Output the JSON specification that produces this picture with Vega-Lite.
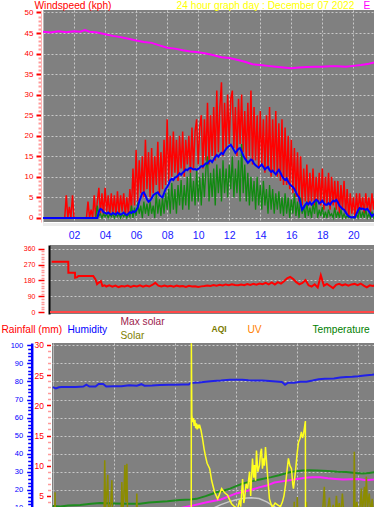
{
"$schema":"https://vega.github.io/schema/vega-lite/v6.json",
"padding":0,
"background":"#ffffff",
"columns":1,
"align":"none",
"bounds":"full",
"center":false,
"spacing":0,
"config":{
 "view":{"fill":"#808080","stroke":null},
 "axis":{"labelFont":"Liberation Sans, Arial, sans-serif","titleFont":"Liberation Sans, Arial, sans-serif","titleFontWeight":"normal","labelOverlap":false,"labelFlush":false,"titlePadding":0}
},
"datasets":{
"wind":[
{"t":0,"g":0,"a":0,"l":0},{"t":1.4,"g":0,"a":0,"l":0},{"t":1.5,"g":5.5,"a":0,"l":0},{"t":1.6,"g":0,"a":0,"l":0},{"t":1.7,"g":2.7,"a":0,"l":0},{"t":1.8,"g":0,"a":0,"l":0},{"t":1.9,"g":5.5,"a":0,"l":0},{"t":2.0,"g":0,"a":0,"l":0},{"t":2.8,"g":0,"a":0,"l":0},{"t":2.9,"g":4,"a":0,"l":0},{"t":3.0,"g":0,"a":0,"l":0},{"t":3.1,"g":2,"a":0,"l":0},{"t":3.2,"g":0,"a":0,"l":0},{"t":3.3,"g":5.5,"a":0,"l":0},{"t":3.4,"g":0,"a":0,"l":0},
{"t":3.5,"g":4,"a":0,"l":3},{"t":3.6,"g":7.3,"a":1.5,"l":0.5},{"t":3.7,"g":1,"a":2.2,"l":1},{"t":3.8,"g":6,"a":2,"l":0},{"t":3.9,"g":0.5,"a":1.4,"l":1},{"t":4.0,"g":7.3,"a":1.2,"l":0.3},{"t":4.1,"g":1.5,"a":1,"l":1},{"t":4.2,"g":5.5,"a":1.3,"l":0},{"t":4.3,"g":0.5,"a":1,"l":1},{"t":4.4,"g":6,"a":0.8,"l":0.3},{"t":4.5,"g":1,"a":1.2,"l":1},{"t":4.6,"g":5.5,"a":1,"l":0},{"t":4.7,"g":0.5,"a":0.8,"l":1},{"t":4.8,"g":6.5,"a":1.3,"l":0.3},{"t":4.9,"g":1,"a":1,"l":1},
{"t":5.0,"g":5.5,"a":0.8,"l":0},{"t":5.1,"g":1.5,"a":1,"l":1},{"t":5.2,"g":6,"a":1.3,"l":0.3},{"t":5.3,"g":0.5,"a":0.9,"l":1},{"t":5.4,"g":5,"a":0.7,"l":0},{"t":5.5,"g":1,"a":1,"l":1},{"t":5.6,"g":7,"a":1.4,"l":0.3},{"t":5.7,"g":2,"a":1.2,"l":3},{"t":5.8,"g":12,"a":1.6,"l":0},{"t":5.9,"g":3,"a":1.4,"l":2.5},
{"t":6.0,"g":16.5,"a":1.8,"l":0.5},{"t":6.1,"g":4,"a":2.5,"l":3.7},{"t":6.2,"g":14,"a":4,"l":1},{"t":6.3,"g":6,"a":5,"l":3},{"t":6.4,"g":15,"a":6,"l":0},{"t":6.5,"g":5,"a":6.2,"l":4},{"t":6.6,"g":19,"a":5.5,"l":1},{"t":6.7,"g":7,"a":4.5,"l":3.5},{"t":6.8,"g":16,"a":3.9,"l":0.5},{"t":6.9,"g":5,"a":4.2,"l":4},
{"t":7.0,"g":17,"a":4.8,"l":1},{"t":7.1,"g":6,"a":5.5,"l":3},{"t":7.2,"g":15,"a":5.8,"l":0},{"t":7.3,"g":8,"a":6,"l":6},{"t":7.4,"g":18.5,"a":6.2,"l":1},{"t":7.5,"g":6,"a":5.6,"l":4.5},{"t":7.6,"g":16,"a":5.2,"l":0.5},{"t":7.7,"g":7,"a":5,"l":5},{"t":7.8,"g":19,"a":6,"l":1},{"t":7.9,"g":8,"a":7,"l":6},
{"t":8.0,"g":24,"a":7.5,"l":2},{"t":8.1,"g":9,"a":8.2,"l":7},{"t":8.2,"g":20,"a":9.2,"l":1},{"t":8.3,"g":10,"a":9.5,"l":8.5},{"t":8.4,"g":21,"a":9.2,"l":2},{"t":8.5,"g":11,"a":9.8,"l":7},{"t":8.6,"g":19,"a":10,"l":1},{"t":8.7,"g":9,"a":10.3,"l":8},{"t":8.8,"g":20,"a":10.8,"l":3},{"t":8.9,"g":12,"a":10.5,"l":9.2},
{"t":9.0,"g":21,"a":11,"l":2},{"t":9.1,"g":10,"a":11.3,"l":8},{"t":9.2,"g":19,"a":11.8,"l":3},{"t":9.3,"g":13,"a":11.6,"l":10},{"t":9.4,"g":20,"a":12,"l":2},{"t":9.5,"g":11,"a":12.2,"l":11},{"t":9.6,"g":22,"a":12,"l":4},{"t":9.7,"g":12,"a":11.8,"l":9},{"t":9.8,"g":21,"a":11.9,"l":3},{"t":9.9,"g":24,"a":11.7,"l":11.7},
{"t":10.0,"g":13,"a":11.9,"l":4},{"t":10.1,"g":22,"a":12.2,"l":10},{"t":10.2,"g":25,"a":12.6,"l":3},{"t":10.3,"g":12,"a":12.5,"l":11},{"t":10.4,"g":24,"a":12.9,"l":5},{"t":10.5,"g":14,"a":13.3,"l":12},{"t":10.6,"g":28,"a":13.2,"l":15},{"t":10.7,"g":13,"a":13.8,"l":4},{"t":10.8,"g":25,"a":14,"l":11},{"t":10.9,"g":15,"a":13.6,"l":5},
{"t":11.0,"g":27,"a":14.2,"l":12},{"t":11.1,"g":14,"a":14.8,"l":3},{"t":11.2,"g":31,"a":15.3,"l":13},{"t":11.3,"g":16,"a":14.9,"l":6},{"t":11.4,"g":27,"a":15.4,"l":12},{"t":11.5,"g":33,"a":15.8,"l":4},{"t":11.6,"g":15,"a":15.5,"l":14},{"t":11.7,"g":28,"a":16.2,"l":6},{"t":11.8,"g":17,"a":16.8,"l":12},{"t":11.9,"g":30,"a":17.2,"l":5},
{"t":12.0,"g":18,"a":17.5,"l":13},{"t":12.1,"g":29,"a":17.8,"l":7},{"t":12.2,"g":31,"a":17.2,"l":15},{"t":12.3,"g":17,"a":16.5,"l":5},{"t":12.4,"g":27,"a":15.8,"l":12},{"t":12.5,"g":15,"a":16.3,"l":6},{"t":12.6,"g":29,"a":16.8,"l":14},{"t":12.7,"g":18,"a":17,"l":4},{"t":12.8,"g":30,"a":16.2,"l":18},{"t":12.9,"g":16,"a":15.2,"l":6},
{"t":13.0,"g":26,"a":14.5,"l":13},{"t":13.1,"g":14,"a":14,"l":4},{"t":13.2,"g":28,"a":13.4,"l":11},{"t":13.3,"g":15,"a":13.8,"l":3},{"t":13.4,"g":31,"a":14.2,"l":10},{"t":13.5,"g":13,"a":14,"l":4},{"t":13.6,"g":27,"a":13.2,"l":9},{"t":13.7,"g":14,"a":12.8,"l":2},{"t":13.8,"g":25,"a":12.5,"l":10},{"t":13.9,"g":12,"a":12.2,"l":3},
{"t":14.0,"g":26,"a":12.6,"l":8},{"t":14.1,"g":13,"a":13,"l":2},{"t":14.2,"g":24,"a":12.4,"l":9},{"t":14.3,"g":11,"a":11.8,"l":3},{"t":14.4,"g":25,"a":12.2,"l":7},{"t":14.5,"g":12,"a":12.4,"l":1},{"t":14.6,"g":27,"a":11.6,"l":8},{"t":14.7,"g":10,"a":11.2,"l":2},{"t":14.8,"g":24,"a":11.5,"l":7},{"t":14.9,"g":11,"a":11,"l":1},
{"t":15.0,"g":26,"a":10.6,"l":6},{"t":15.1,"g":10,"a":11.2,"l":2},{"t":15.2,"g":23,"a":11.7,"l":6.5},{"t":15.3,"g":9,"a":11,"l":1},{"t":15.4,"g":24,"a":10.2,"l":5},{"t":15.5,"g":8,"a":9.6,"l":0.5},{"t":15.6,"g":22,"a":9.2,"l":6},{"t":15.7,"g":8,"a":9.6,"l":1},{"t":15.8,"g":20,"a":8.8,"l":5},{"t":15.9,"g":7,"a":8.2,"l":0},
{"t":16.0,"g":19,"a":7.8,"l":4.5},{"t":16.1,"g":6,"a":7.5,"l":1},{"t":16.2,"g":17,"a":7,"l":6},{"t":16.3,"g":5,"a":6.2,"l":0.5},{"t":16.4,"g":16,"a":5.5,"l":4},{"t":16.5,"g":4,"a":5,"l":0},{"t":16.6,"g":15,"a":3.5,"l":5},{"t":16.7,"g":3,"a":2,"l":1},{"t":16.8,"g":12,"a":2.5,"l":3},{"t":16.9,"g":4,"a":3.2,"l":0},
{"t":17.0,"g":13,"a":3.7,"l":4},{"t":17.1,"g":3,"a":3.3,"l":0.5},{"t":17.2,"g":11,"a":3.8,"l":2.5},{"t":17.3,"g":4,"a":3.2,"l":0},{"t":17.4,"g":12,"a":3.6,"l":3.5},{"t":17.5,"g":3,"a":4,"l":1},{"t":17.6,"g":10,"a":4.4,"l":4.4},{"t":17.7,"g":4,"a":4.2,"l":0},{"t":17.8,"g":11,"a":3.5,"l":2},{"t":17.9,"g":3,"a":3.8,"l":0.5},
{"t":18.0,"g":12,"a":4.2,"l":2.7},{"t":18.1,"g":2,"a":3.6,"l":0},{"t":18.2,"g":10,"a":3.2,"l":1.5},{"t":18.3,"g":3,"a":3.2,"l":0},{"t":18.4,"g":11,"a":3.6,"l":2},{"t":18.5,"g":2,"a":3.2,"l":0.5},{"t":18.6,"g":10,"a":3.8,"l":1},{"t":18.7,"g":3,"a":4.2,"l":0},{"t":18.8,"g":9,"a":4,"l":2.5},{"t":18.9,"g":2,"a":4.4,"l":0},
{"t":19.0,"g":9,"a":3.8,"l":1.5},{"t":19.1,"g":1,"a":3,"l":0},{"t":19.2,"g":8,"a":2.6,"l":2},{"t":19.3,"g":2,"a":2.2,"l":0},{"t":19.4,"g":9,"a":2,"l":1},{"t":19.5,"g":1,"a":1.4,"l":0},{"t":19.6,"g":7,"a":0.8,"l":0.5},{"t":19.7,"g":0,"a":0.4,"l":0},{"t":19.8,"g":6,"a":0.2,"l":0.3},{"t":19.9,"g":1,"a":0.1,"l":0},
{"t":20.0,"g":5,"a":0.2,"l":0},{"t":20.1,"g":0,"a":0.1,"l":0},{"t":20.2,"g":6,"a":1,"l":1},{"t":20.3,"g":1,"a":1.8,"l":0},{"t":20.4,"g":6,"a":2.4,"l":2},{"t":20.5,"g":2,"a":2.2,"l":0},{"t":20.6,"g":5,"a":2.3,"l":1.5},{"t":20.7,"g":1,"a":2.1,"l":0},{"t":20.8,"g":6,"a":2,"l":2},{"t":20.9,"g":2,"a":2.2,"l":0},
{"t":21.0,"g":5,"a":1.6,"l":1},{"t":21.1,"g":1,"a":1,"l":0},{"t":21.2,"g":6,"a":0.4,"l":1.5},{"t":21.3,"g":2,"a":0.8,"l":0},{"t":21.4,"g":6,"a":1,"l":0.5}
],
"press":[
{"t":0,"m":45.3},{"t":0.5,"m":45.1},{"t":1,"m":45.4},{"t":1.5,"m":45.2},{"t":2,"m":45.4},{"t":2.4,"m":45.3},{"t":2.7,"m":45.7},{"t":3,"m":45.3},{"t":3.5,"m":45.1},{"t":4,"m":44.7},{"t":4.5,"m":44.3},{"t":5,"m":44.0},{"t":5.5,"m":43.6},{"t":6,"m":43.2},{"t":6.5,"m":42.8},{"t":7,"m":42.6},{"t":7.5,"m":42.0},{"t":8,"m":41.4},{"t":8.5,"m":41.2},{"t":9,"m":40.8},{"t":9.5,"m":40.5},{"t":10,"m":40.3},{"t":10.5,"m":40.0},{"t":11,"m":39.6},{"t":11.5,"m":39.1},{"t":12,"m":38.9},{"t":12.5,"m":38.5},{"t":13,"m":38.0},{"t":13.5,"m":37.4},{"t":14,"m":37.2},{"t":14.5,"m":37.0},{"t":15,"m":36.8},{"t":15.5,"m":36.6},{"t":16,"m":36.4},{"t":16.5,"m":36.6},{"t":17,"m":36.7},{"t":17.5,"m":36.8},{"t":18,"m":36.8},{"t":18.5,"m":36.9},{"t":19,"m":36.9},{"t":19.5,"m":36.8},{"t":20,"m":37.0},{"t":20.5,"m":37.2},{"t":21,"m":37.5},{"t":21.4,"m":37.9}
],
"dir":[
{"t":0.24,"d":286},{"t":1.32,"d":286},{"t":1.33,"d":224},{"t":1.76,"d":224},{"t":1.77,"d":195},{"t":1.9,"d":198},{"t":1.98,"d":205},{"t":2.95,"d":205},{"t":3.1,"d":186},{"t":3.2,"d":158},{"t":3.3,"d":166},{"t":3.45,"d":176},{"t":3.55,"d":148},{"t":3.7,"d":152},
{"t":3.8,"d":145},{"t":4.0,"d":152},{"t":4.2,"d":144},{"t":4.4,"d":150},{"t":4.6,"d":142},{"t":4.8,"d":148},{"t":5.0,"d":145},{"t":5.2,"d":151},{"t":5.4,"d":143},{"t":5.6,"d":149},{"t":5.8,"d":146},{"t":6.0,"d":152},{"t":6.2,"d":144},{"t":6.4,"d":150},{"t":6.6,"d":145},{"t":6.8,"d":154},{"t":7.0,"d":166},{"t":7.2,"d":150},{"t":7.4,"d":145},{"t":7.6,"d":151},{"t":7.8,"d":146},{"t":8.0,"d":149},{"t":8.2,"d":144},{"t":8.4,"d":150},{"t":8.6,"d":146},{"t":8.8,"d":148},{"t":9.0,"d":143},{"t":9.2,"d":149},{"t":9.4,"d":145},{"t":9.6,"d":147},{"t":9.8,"d":142},{"t":10.0,"d":146},{"t":10.2,"d":148},{"t":10.4,"d":151},{"t":10.6,"d":148},{"t":10.8,"d":153},{"t":11.0,"d":150},{"t":11.2,"d":155},{"t":11.4,"d":151},{"t":11.6,"d":157},{"t":11.8,"d":153},{"t":12.0,"d":158},{"t":12.2,"d":154},{"t":12.4,"d":152},{"t":12.6,"d":157},{"t":12.8,"d":153},{"t":13.0,"d":159},{"t":13.2,"d":154},{"t":13.4,"d":160},{"t":13.6,"d":155},{"t":13.8,"d":162},{"t":14.0,"d":158},{"t":14.2,"d":166},{"t":14.4,"d":157},{"t":14.6,"d":168},{"t":14.8,"d":156},{"t":15.0,"d":170},{"t":15.2,"d":162},{"t":15.4,"d":175},{"t":15.6,"d":192},{"t":15.8,"d":200},{"t":16.0,"d":188},{"t":16.2,"d":170},{"t":16.4,"d":158},{"t":16.6,"d":165},{"t":16.8,"d":182},{"t":17.0,"d":152},{"t":17.2,"d":145},{"t":17.4,"d":158},{"t":17.6,"d":140},{"t":17.8,"d":209},{"t":18.0,"d":150},{"t":18.2,"d":160},{"t":18.4,"d":148},{"t":18.6,"d":136},{"t":18.8,"d":155},{"t":19.0,"d":160},{"t":19.2,"d":152},{"t":19.4,"d":158},{"t":19.6,"d":150},{"t":19.8,"d":157},{"t":20.0,"d":160},{"t":20.2,"d":153},{"t":20.4,"d":162},{"t":20.6,"d":150},{"t":20.8,"d":140},{"t":21.0,"d":152},{"t":21.2,"d":148},{"t":21.4,"d":155}
],
"hum":[
{"t":0,"h":76.9},{"t":0.2,"h":76.2},{"t":0.4,"h":76.8},{"t":0.6,"h":76.9},{"t":1,"h":76.9},{"t":1.5,"h":77},{"t":2,"h":77.2},{"t":2.2,"h":78.2},{"t":2.4,"h":77.2},{"t":2.8,"h":77.2},{"t":3,"h":78.6},{"t":3.3,"h":78.6},{"t":3.5,"h":77.2},{"t":4,"h":77.3},{"t":4.5,"h":77.4},{"t":5,"h":77.9},{"t":5.5,"h":77.7},{"t":5.8,"h":78.5},{"t":6,"h":77.7},{"t":6.5,"h":77.8},{"t":7,"h":78},{"t":7.6,"h":78.2},{"t":8,"h":78.2},{"t":8.5,"h":78.3},{"t":8.9,"h":78.3},{"t":9,"h":79},{"t":9.2,"h":79.3},{"t":9.6,"h":79.4},{"t":10,"h":79.8},{"t":10.5,"h":80.2},{"t":11,"h":80.5},{"t":11.6,"h":81},{"t":12,"h":81},{"t":12.4,"h":81},{"t":12.8,"h":80.7},{"t":13.2,"h":80.5},{"t":13.7,"h":80.6},{"t":14.2,"h":80.3},{"t":14.6,"h":80},{"t":15,"h":79.7},{"t":15.2,"h":78.2},{"t":15.4,"h":79.3},{"t":15.8,"h":79.3},{"t":16.2,"h":79.8},{"t":16.6,"h":79.9},{"t":17,"h":80.5},{"t":17.4,"h":81.2},{"t":17.8,"h":81.5},{"t":18.4,"h":81.6},{"t":18.8,"h":82.2},{"t":19.2,"h":82.5},{"t":19.6,"h":82.6},{"t":20,"h":82.9},{"t":20.4,"h":83.3},{"t":20.9,"h":83.7},{"t":21.1,"h":83.9}
],
"temp":[
{"t":0,"v":3.3},{"t":0.5,"v":3.25},{"t":1,"v":3.4},{"t":1.8,"v":3.5},{"t":2.5,"v":3.7},{"t":3.1,"v":3.8},{"t":4,"v":3.75},{"t":5,"v":3.7},{"t":5.7,"v":3.7},{"t":6.3,"v":3.9},{"t":6.8,"v":4.0},{"t":7.5,"v":4.1},{"t":8.3,"v":4.3},{"t":9,"v":4.4},{"t":9.4,"v":4.5},{"t":10,"v":4.95},{"t":10.4,"v":5.3},{"t":10.7,"v":5.6},{"t":11.2,"v":5.9},{"t":11.6,"v":6.2},{"t":12,"v":6.6},{"t":12.4,"v":7.0},{"t":13,"v":7.4},{"t":13.7,"v":7.8},{"t":14.3,"v":8.1},{"t":14.8,"v":8.4},{"t":15.5,"v":8.9},{"t":16.3,"v":9.2},{"t":16.8,"v":9.25},{"t":17.3,"v":9.2},{"t":18,"v":9.1},{"t":18.6,"v":9.0},{"t":19.2,"v":8.95},{"t":19.8,"v":8.8},{"t":20.3,"v":8.7},{"t":20.7,"v":8.8},{"t":21.2,"v":8.95}
],
"dew":[
{"t":0,"v":1.0},{"t":4,"v":1.6},{"t":6,"v":2.2},{"t":7,"v":2.5},{"t":8,"v":2.8},{"t":9,"v":3.3},{"t":10,"v":3.9},{"t":11,"v":4.4},{"t":12,"v":5.4},{"t":12.5,"v":5.7},{"t":13,"v":6.0},{"t":13.5,"v":6.4},{"t":14,"v":6.7},{"t":14.5,"v":7.2},{"t":15,"v":7.4},{"t":15.5,"v":7.6},{"t":16,"v":7.8},{"t":16.5,"v":8.0},{"t":17,"v":8.1},{"t":17.5,"v":8.1},{"t":18,"v":7.9},{"t":18.5,"v":7.8},{"t":19,"v":7.7},{"t":19.5,"v":7.75},{"t":20,"v":7.8},{"t":20.5,"v":7.6},{"t":21,"v":7.7},{"t":21.2,"v":7.8}
],
"maxs":[
{"t":8.5,"v":0},{"t":9.5,"v":1.0},{"t":10,"v":2.1},{"t":10.5,"v":2.95},{"t":11,"v":3.55},{"t":11.5,"v":4.0},{"t":12,"v":4.35},{"t":12.5,"v":4.6},{"t":13,"v":4.7},{"t":13.5,"v":4.55},{"t":14,"v":4.0},{"t":14.5,"v":3.2},{"t":15,"v":2.2},{"t":15.5,"v":1.2},{"t":16,"v":0.2}
],
"sol":[
{"t":0,"v":0},{"t":0.12,"v":0},{"t":0.15,"v":5.6},{"t":0.18,"v":0},{"t":3.35,"v":0},{"t":3.4,"v":10.9},{"t":3.45,"v":3},{"t":3.55,"v":6},{"t":3.6,"v":8.5},{"t":3.65,"v":2},{"t":3.8,"v":4},{"t":3.87,"v":7.6},{"t":3.92,"v":0},{"t":4.45,"v":0},{"t":4.52,"v":7.3},{"t":4.58,"v":2},{"t":4.65,"v":5},{"t":4.72,"v":10.1},{"t":4.78,"v":4},{"t":4.85,"v":10.3},{"t":4.9,"v":0},{"t":5.45,"v":0},{"t":5.5,"v":5.4},{"t":5.55,"v":0},{"t":15.75,"v":0},{"t":15.8,"v":4.0},{"t":15.85,"v":0},{"t":15.95,"v":1},{"t":16.0,"v":4.8},{"t":16.05,"v":0},{"t":16.5,"v":1},{"t":16.6,"v":4.0},{"t":16.65,"v":0.5},{"t":16.9,"v":2},{"t":17.0,"v":0.5},{"t":17.2,"v":3},{"t":17.3,"v":1},{"t":17.5,"v":2.5},{"t":17.6,"v":0.5},{"t":17.77,"v":6.5},{"t":17.85,"v":1},{"t":18.0,"v":3},{"t":18.1,"v":4.7},{"t":18.2,"v":1.5},{"t":18.35,"v":3.5},{"t":18.45,"v":1},{"t":18.56,"v":5.0},{"t":18.65,"v":2},{"t":18.75,"v":3.8},{"t":18.85,"v":1.5},{"t":18.95,"v":5.4},{"t":19.05,"v":2},{"t":19.15,"v":2.5},{"t":19.25,"v":0.5},{"t":19.4,"v":3},{"t":19.5,"v":1.5},{"t":19.6,"v":2.5},{"t":19.68,"v":0.5},{"t":19.73,"v":12.3},{"t":19.78,"v":2},{"t":19.9,"v":4},{"t":20.0,"v":1.5},{"t":20.1,"v":3},{"t":20.19,"v":6.2},{"t":20.25,"v":2},{"t":20.32,"v":4},{"t":20.39,"v":6.5},{"t":20.45,"v":2.5},{"t":20.52,"v":8.2},{"t":20.6,"v":3},{"t":20.71,"v":5.4},{"t":20.8,"v":2},{"t":20.9,"v":4.5},{"t":21.0,"v":1.5},{"t":21.1,"v":3.5},{"t":21.2,"v":2}
],
"aqi":[
{"t":9.06,"v":0},{"t":9.07,"v":30.3},{"t":9.1,"v":18.4},{"t":9.15,"v":17.2},{"t":9.2,"v":17.9},{"t":9.25,"v":16.6},{"t":9.3,"v":17.6},{"t":9.35,"v":16.2},{"t":9.4,"v":17.0},{"t":9.45,"v":16.0},{"t":9.5,"v":16.8},{"t":9.55,"v":16.2},{"t":9.6,"v":16.8},{"t":9.7,"v":15.9},{"t":9.8,"v":14.5},{"t":9.9,"v":12.8},{"t":10.0,"v":11.5},{"t":10.1,"v":10.4},{"t":10.27,"v":9.5},{"t":10.4,"v":7.5},{"t":10.59,"v":5.6},{"t":10.79,"v":4.5},{"t":10.9,"v":5.2},{"t":11.05,"v":6.2},{"t":11.25,"v":5.5},{"t":11.44,"v":5.1},{"t":11.6,"v":4.2},{"t":11.7,"v":3.7},{"t":11.9,"v":3.2},{"t":12.1,"v":2.9},{"t":12.22,"v":4.3},{"t":12.3,"v":3.2},{"t":12.42,"v":7.8},{"t":12.5,"v":3.8},{"t":12.55,"v":4.5},{"t":12.65,"v":7.0},{"t":12.75,"v":6.2},{"t":12.88,"v":9.0},{"t":12.95,"v":5.0},{"t":13.07,"v":11.2},{"t":13.15,"v":8.0},{"t":13.2,"v":10.1},{"t":13.27,"v":7.5},{"t":13.33,"v":12.5},{"t":13.42,"v":9.0},{"t":13.53,"v":10.1},{"t":13.6,"v":12.2},{"t":13.66,"v":12.8},{"t":13.72,"v":9.5},{"t":13.79,"v":11.2},{"t":13.85,"v":10.0},{"t":13.92,"v":13.1},{"t":13.98,"v":11.0},{"t":14.05,"v":8.5},{"t":14.18,"v":4.5},{"t":14.3,"v":3.5},{"t":14.38,"v":3.1},{"t":14.55,"v":3.8},{"t":14.71,"v":3.5},{"t":14.9,"v":3.2},{"t":15.03,"v":4.0},{"t":15.13,"v":5.0},{"t":15.23,"v":6.8},{"t":15.32,"v":9.0},{"t":15.42,"v":11.2},{"t":15.52,"v":10.0},{"t":15.62,"v":9.5},{"t":15.7,"v":7.0},{"t":15.75,"v":6.2},{"t":15.88,"v":9.0},{"t":15.98,"v":11.8},{"t":16.08,"v":13.9},{"t":16.18,"v":14.5},{"t":16.27,"v":15.6},{"t":16.34,"v":14.6},{"t":16.4,"v":15.1},{"t":16.47,"v":16.3},{"t":16.53,"v":17.4},{"t":16.54,"v":0}
]
},
"concat":[
{"spacing":0,"hconcat":[
{"width":1,"height":1,"view":{"fill":"#ffffff","stroke":null},"data":{"values":[]},"mark":"point"},
{
"width":331,"height":212,
"layer":[
 {"data":{"name":"wind"},"mark":{"type":"line","color":"#ff0000","strokeWidth":1.5},
  "encoding":{
   "x":{"field":"t","type":"quantitative","scale":{"domain":[0,21.33],"nice":false,"zero":false},
     "axis":{"orient":"bottom","offset":2,"values":[0,2,4,6,8,10,12,14,16,18,20],
       "labelExpr":"datum.value == 0 ? '' : (datum.value < 10 ? '0' + datum.value : '' + datum.value)",
       "labelColor":"#2020ff","labelFontSize":10.5,"labelPadding":6,"ticks":false,
       "domain":true,"domainColor":"#d8d8d8","domainDash":[1,1],"domainWidth":3,
       "grid":true,"gridColor":"#c8c8c8","gridWidth":1,
       "gridDash":{"condition":{"test":"datum.value == 0","value":[1,0]},"value":[2,2]},
       "title":null,"minExtent":20,"maxExtent":20}},
   "y":{"field":"g","type":"quantitative","scale":{"domain":[-1,50.6],"nice":false,"zero":false},
     "axis":{"orient":"left","offset":2,"values":[0,1,2,3,4,5,6,7,8,9,10,11,12,13,14,15,16,17,18,19,20,21,22,23,24,25,26,27,28,29,30,31,32,33,34,35,36,37,38,39,40,41,42,43,44,45,46,47,48,49,50],
       "labelExpr":"datum.value % 5 == 0 ? datum.label : ''",
       "labelColor":"#ff0000","labelFontSize":8,"labelPadding":3,
       "tickColor":{"condition":{"test":"datum.value % 5 == 0","value":"#ff0000"},"value":"#ff9a9a"},
       "tickSize":{"condition":{"test":"datum.value % 5 == 0","value":5},"value":3},
       "tickWidth":2,
       "domain":true,"domainColor":"#ffb4b4","domainWidth":1,
       "grid":true,"gridColor":"#c8c8c8","gridDash":[2,2],
       "gridOpacity":{"condition":{"test":"datum.value % 5 == 0","value":1},"value":0},
       "title":"Windspeed (kph)","titleColor":"#ff0000","titleFontSize":10.2,"titleAngle":0,"titleAlign":"left","titleBaseline":"alphabetic","titleX":-7,"titleY":-1.2,
       "minExtent":40,"maxExtent":40}}}},
 {"data":{"name":"wind"},"mark":{"type":"line","color":"#108a10","strokeWidth":1.3},
  "encoding":{"x":{"field":"t","type":"quantitative","axis":null},"y":{"field":"l","type":"quantitative","axis":null}}},
 {"data":{"name":"wind"},"mark":{"type":"line","color":"#0000ff","strokeWidth":2},
  "encoding":{"x":{"field":"t","type":"quantitative","axis":null},"y":{"field":"a","type":"quantitative","axis":null}}},
 {"data":{"name":"press"},"mark":{"type":"line","color":"#ff00ff","strokeWidth":2},
  "encoding":{
   "x":{"field":"t","type":"quantitative","axis":{"orient":"top","labels":false,"ticks":false,"domain":false,"grid":false,"title":"24 hour graph day : December 07 2022","titleColor":"#ffff00","titleFontSize":10.2,"titleAngle":0,"titleAlign":"center","titleBaseline":"alphabetic","titleX":222,"titleY":-1.2,"minExtent":0,"maxExtent":0}},
   "y":{"field":"m","type":"quantitative","axis":{"orient":"right","labels":false,"ticks":false,"domain":false,"grid":false,"title":"E","titleColor":"#ff00ff","titleFontSize":10.2,"titleAngle":0,"titleAlign":"left","titleBaseline":"alphabetic","titleX":-11,"titleY":-1.2,"minExtent":0,"maxExtent":0}}}}
],
"resolve":{"axis":{"x":"independent","y":"independent"}}
}]},
{"spacing":0,"hconcat":[
{"width":1,"height":1,"view":{"fill":"#ffffff","stroke":null},"data":{"values":[]},"mark":"point"},
{
"width":324,"height":69,
"layer":[
 {"data":{"values":[{}]},"mark":{"type":"rule","color":"#ff4848","strokeWidth":2},
  "encoding":{"y":{"datum":0,"type":"quantitative","scale":{"domain":[-11,381],"nice":false,"zero":false},
    "axis":{"orient":"left","offset":6,"values":[0,15,30,45,60,75,90,105,120,135,150,165,180,195,210,225,240,255,270,285,300,315,330,345,360],
     "labelExpr":"datum.value % 90 == 0 ? datum.label : ''","labelColor":"#ff0000","labelFontSize":7,"labelPadding":3,
     "tickColor":{"condition":{"test":"datum.value % 90 == 0","value":"#ff0000"},"value":"#ff9a9a"},
     "tickSize":{"condition":{"test":"datum.value % 90 == 0","value":6},"value":3},"tickWidth":1.5,
     "domain":false,"grid":true,"gridColor":"#c8c8c8","gridDash":[2,2],
     "gridOpacity":{"condition":{"test":"datum.value % 90 == 0 && datum.value > 0","value":1},"value":0},
     "title":null,"minExtent":43,"maxExtent":43}}}},
 {"data":{"name":"dir"},"mark":{"type":"line","color":"#ff0000","strokeWidth":2},
  "encoding":{"x":{"field":"t","type":"quantitative","scale":{"domain":[0.13,21.27],"nice":false,"zero":false},"axis":null},
   "y":{"field":"d","type":"quantitative","axis":{"orient":"left","offset":1,"labels":false,"ticks":false,"grid":false,"domain":true,"domainColor":"#000000","domainWidth":2,"title":null,"minExtent":0,"maxExtent":0}}}}
],
"resolve":{"axis":{"y":"independent"}}
}]},
{"spacing":0,"hconcat":[
{"width":1,"height":1,"view":{"fill":"#ffffff","stroke":null},"data":{"values":[]},"mark":"point"},
{
"width":322,"height":166,
"layer":[
 {"data":{"name":"hum"},"mark":{"type":"line","color":"#2020e8","strokeWidth":2,"clip":true},
  "encoding":{
   "x":{"field":"t","type":"quantitative","scale":{"domain":[-0.05,21.02],"nice":false,"zero":false},
     "axis":{"orient":"top","values":[0,2,4,6,8,10,12,14,16,18,20],"labels":false,"ticks":false,"domain":false,"grid":true,"gridColor":"#c8c8c8","gridDash":{"condition":{"test":"datum.value == 0","value":[1,0]},"value":[2,2]},"title":"UV","titleColor":"#ff8000","titleFontSize":10.2,"titleAngle":0,"titleAlign":"left","titleBaseline":"alphabetic","titleX":195,"titleY":-11,"minExtent":0,"maxExtent":0}},
   "y":{"field":"h","type":"quantitative","scale":{"domain":[9.4,101.3],"nice":false,"zero":false},
     "axis":{"orient":"left","offset":20.3,"values":[10,12,14,16,18,20,22,24,26,28,30,32,34,36,38,40,42,44,46,48,50,52,54,56,58,60,62,64,66,68,70,72,74,76,78,80,82,84,86,88,90,92,94,96,98,100],
      "labelExpr":"datum.value % 10 == 0 ? datum.label : ''","labelColor":"#0000ff","labelFontSize":7.5,"labelPadding":4,
      "tickColor":"#0000ff","tickSize":{"condition":{"test":"datum.value % 10 == 0","value":5},"value":4},"tickWidth":1.5,
      "domain":true,"domainColor":"#0000ff","domainWidth":2.5,
      "grid":true,"gridColor":"#c8c8c8","gridDash":[2,2],"gridOpacity":{"condition":{"test":"datum.value % 10 == 0","value":1},"value":0},
      "title":"Humidity","titleColor":"#0000ff","titleFontSize":10.2,"titleAngle":0,"titleAlign":"left","titleBaseline":"alphabetic","titleX":35.3,"titleY":-11}}}},
 {"data":{"name":"temp"},"mark":{"type":"line","color":"#1e8c1e","strokeWidth":2,"clip":true},
  "encoding":{"x":{"field":"t","type":"quantitative"},
   "y":{"field":"v","type":"quantitative","scale":{"domain":[2.82,30.33],"nice":false,"zero":false},
     "axis":{"orient":"left","offset":1.5,"values":[3,4,5,6,7,8,9,10,11,12,13,14,15,16,17,18,19,20,21,22,23,24,25,26,27,28,29,30],
      "labelExpr":"datum.value % 5 == 0 ? datum.label : ''","labelColor":"#ff0000","labelFontSize":8.5,"labelPadding":3,
      "tickColor":{"condition":{"test":"datum.value % 5 == 0","value":"#ff0000"},"value":"#ff9a9a"},
      "tickSize":{"condition":{"test":"datum.value % 5 == 0","value":4},"value":3},"tickWidth":1.5,
      "domain":false,"grid":false,
      "title":"Rainfall (mm)","titleColor":"#ff0000","titleFontSize":10.2,"titleAngle":0,"titleAlign":"left","titleBaseline":"alphabetic","titleX":-49.5,"titleY":-11}}}},
 {"data":{"name":"dew"},"mark":{"type":"line","color":"#ff20ff","strokeWidth":2,"clip":true},
  "encoding":{"x":{"field":"t","type":"quantitative"},
   "y":{"field":"v","type":"quantitative","scale":{"domain":[2.82,30.33],"nice":false,"zero":false},
     "axis":{"orient":"right","labels":false,"ticks":false,"domain":false,"grid":false,"title":"Temperature","titleColor":"#008000","titleFontSize":10.2,"titleAngle":0,"titleAlign":"left","titleBaseline":"alphabetic","titleX":-62,"titleY":-11,"minExtent":0,"maxExtent":0}}}},
 {"data":{"name":"maxs"},"mark":{"type":"line","color":"#c8c8c8","strokeWidth":1.5,"clip":true},
  "encoding":{"x":{"field":"t","type":"quantitative"},
   "y":{"field":"v","type":"quantitative","scale":{"domain":[2.82,30.33],"nice":false,"zero":false},
     "axis":{"orient":"right","labels":false,"ticks":false,"domain":false,"grid":false,"title":"Max solar","titleColor":"#9c1c4c","titleFontSize":10.2,"titleAngle":0,"titleAlign":"left","titleBaseline":"alphabetic","titleX":-254,"titleY":-18.3,"minExtent":0,"maxExtent":0}}}},
 {"data":{"name":"sol"},"mark":{"type":"line","color":"#8c8c00","strokeWidth":1.5,"clip":true},
  "encoding":{"x":{"field":"t","type":"quantitative"},
   "y":{"field":"v","type":"quantitative","scale":{"domain":[2.82,30.33],"nice":false,"zero":false},
     "axis":{"orient":"right","labels":false,"ticks":false,"domain":false,"grid":false,"title":"Solar","titleColor":"#808000","titleFontSize":10.2,"titleAngle":0,"titleAlign":"left","titleBaseline":"alphabetic","titleX":-254,"titleY":-5,"minExtent":0,"maxExtent":0}}}},
 {"data":{"name":"aqi"},"mark":{"type":"line","color":"#ffff20","strokeWidth":1.5,"clip":true},
  "encoding":{"x":{"field":"t","type":"quantitative"},
   "y":{"field":"v","type":"quantitative","scale":{"domain":[2.82,30.33],"nice":false,"zero":false},
     "axis":{"orient":"right","labels":false,"ticks":false,"domain":false,"grid":false,"title":"AQI","titleColor":"#7a7a00","titleFontSize":8.5,"titleFontWeight":"bold","titleAngle":0,"titleAlign":"left","titleBaseline":"alphabetic","titleX":-163,"titleY":-11.7,"minExtent":0,"maxExtent":0}}}}
],
"resolve":{"scale":{"y":"independent"},"axis":{"y":"independent"}}
}]}
]
}
